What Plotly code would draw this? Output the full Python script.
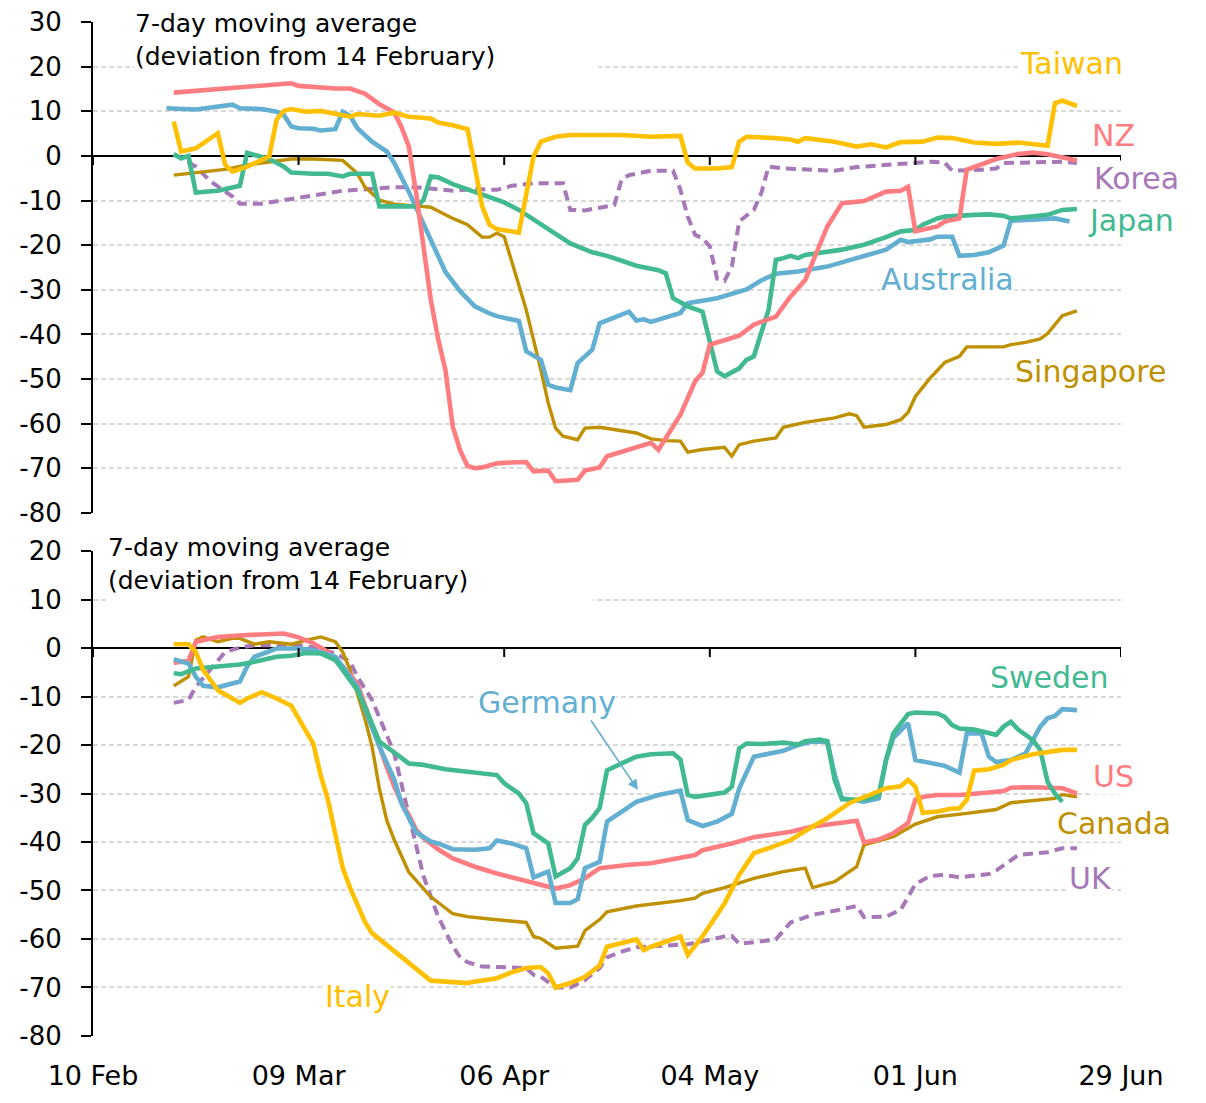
import plotly.graph_objects as go
import pandas as pd

START = pd.Timestamp("2020-02-10")
END = pd.Timestamp("2020-06-29")

TICK_DATES = ["2020-02-10", "2020-03-09", "2020-04-06", "2020-05-04", "2020-06-01", "2020-06-29"]
Y_TOP_TICKS = [30, 20, 10, 0, -10, -20, -30, -40, -50, -60, -70, -80]
Y_TOP_LABELS = ["30", "20", "10", "0", "-10", "-20", "-30", "-40", "-50", "-60", "-70", "-80"]
Y_BOT_TICKS = [20, 10, 0, -10, -20, -30, -40, -50, -60, -70, -80]
Y_BOT_LABELS = ["20", "10", "0", "-10", "-20", "-30", "-40", "-50", "-60", "-70", "-80"]

# ---- top panel (days since 10 Feb 2020, deviation %) ----
nz_days = [11,20,27,28,30,33,35,37,39,40,41,42,43,44,45,46,47,48,49,50,51,52,53,55,57,59,60,62,63,66,67,69,70,72,74,76,77,80,82,83,84,86,88,90,93,95,97,100,102,105,108,110,111,112,115,116,118,119,121,123,126,128,130,132,134]
nz_vals = [14.2,15.4,16.3,15.7,15.4,15.1,15.1,14.0,11.6,10.8,9.8,6.5,2.2,-8.2,-20.8,-32.2,-41.0,-48.0,-60.7,-66.0,-69.5,-70.0,-69.8,-68.9,-68.7,-68.6,-70.7,-70.5,-72.9,-72.6,-70.5,-69.8,-67.3,-66.3,-65.1,-64.3,-65.9,-58.0,-50.5,-48.6,-42.3,-41.3,-40.3,-37.8,-36.0,-31.5,-27.8,-15.8,-10.6,-10.1,-8.0,-7.8,-6.9,-16.9,-15.8,-14.7,-14.0,-3.1,-1.9,-0.7,0.45,0.75,0.4,-0.3,-1.0]

aus_days = [10,14,19,20,23,25,26,27,28,30,31,33,34,35,36,38,40,41,43,45,47,48,50,52,54,55,58,59,61,62,63,65,66,68,69,73,74,75,76,80,81,83,85,89,91,93,96,100,103,105,108,110,111,114,115,117,118,120,122,124,125,128,131,133]
aus_vals = [10.7,10.4,11.5,10.7,10.5,9.9,9.2,6.6,6.2,6.1,5.7,6.0,9.9,9.0,6.2,3.2,1.0,-1.5,-8.0,-15.1,-22.6,-26.0,-30.3,-33.7,-35.3,-35.9,-37.0,-43.8,-45.7,-51.3,-51.9,-52.5,-46.4,-43.4,-37.5,-34.9,-36.9,-36.6,-37.2,-35.2,-33.0,-32.4,-31.9,-29.9,-27.9,-26.4,-25.9,-24.8,-23.3,-22.5,-21.0,-18.8,-19.3,-18.7,-18.1,-18.1,-22.4,-22.2,-21.6,-20.1,-14.5,-14.3,-14.0,-14.7]

twn_days = [11,12,14,17,18,19,21,23,24,25,26,27,29,31,34,35,36,39,41,43,46,47,49,51,52,53,54,55,58,59,60,61,63,65,68,72,76,80,81,82,85,87,88,89,93,95,96,97,101,104,106,108,110,113,115,117,120,123,126,129,130,131,132,134]
twn_vals = [7.7,1.0,1.7,5.1,-2.0,-3.5,-2.4,-1.0,-0.1,8.1,10.1,10.5,9.9,10.1,9.0,8.8,9.4,9.0,9.7,8.8,8.4,7.5,6.9,6.0,-2.4,-11.3,-15.4,-16.4,-17.2,-9.1,-0.1,3.2,4.3,4.7,4.6,4.7,4.3,4.5,-1.5,-2.8,-2.8,-2.5,3.2,4.3,4.0,3.7,3.2,4.0,3.2,2.1,2.6,1.9,3.1,3.2,4.1,4.0,3.0,2.7,3.0,2.3,2.3,11.8,12.4,11.2]

jpn_days = [11,12,13,14,17,19,20,21,24,26,27,30,32,34,35,38,39,44,45,46,47,49,52,56,58,60,63,65,68,70,72,74,77,78,79,81,83,84,85,86,88,89,90,92,93,94,95,96,97,102,105,108,110,112,113,115,116,120,122,124,125,127,130,132,134]
jpn_vals = [0.4,-0.5,0.0,-8.2,-7.8,-7.2,-6.7,0.7,-0.7,-2.4,-3.7,-4.0,-4.0,-4.6,-4.0,-4.0,-11.3,-11.3,-9.9,-4.6,-4.8,-6.3,-8.0,-10.4,-12.1,-14.3,-17.7,-19.6,-21.6,-22.4,-23.5,-24.6,-25.6,-26.3,-31.9,-33.7,-34.9,-41.2,-48.3,-49.4,-47.6,-45.7,-44.9,-34.5,-23.3,-22.9,-22.4,-22.9,-22.2,-21.0,-19.9,-18.2,-16.9,-16.6,-15.4,-14.0,-13.6,-13.2,-13.1,-13.4,-14.0,-13.7,-13.2,-12.1,-11.9]

sgp_days = [11,14,18,21,24,27,30,33,34,36,37,39,41,44,46,49,51,53,54,55,56,57,59,61,62,63,64,66,67,69,74,76,78,80,81,83,86,87,88,90,93,94,97,101,103,104,105,108,110,111,112,114,116,118,119,124,125,127,129,130,132,134]
sgp_vals = [-4.3,-3.7,-3.0,-2.0,-1.3,-0.7,-0.7,-0.9,-1.0,-3.9,-6.9,-9.9,-10.8,-11.2,-11.5,-14.0,-15.4,-18.2,-18.2,-17.3,-18.1,-23.5,-34.5,-48.0,-55.4,-61.0,-62.8,-63.6,-61.0,-60.8,-62.1,-63.4,-63.8,-63.9,-66.4,-65.8,-65.3,-67.3,-64.7,-63.9,-63.2,-60.8,-59.7,-58.7,-57.8,-58.2,-60.8,-60.2,-59.1,-57.5,-53.9,-49.8,-46.3,-44.9,-42.8,-42.8,-42.3,-41.8,-41.0,-39.8,-35.8,-34.7]

kor_days = [11,14,16,19,20,23,26,29,32,34,36,39,41,44,47,49,52,55,57,60,64,65,67,70,71,72,73,76,79,80,81,82,83,84,85,86,87,88,90,91,92,94,97,101,104,108,111,114,116,117,121,123,124,127,130,132,134]
kor_vals = [0.4,-2.4,-5.7,-9.1,-10.7,-10.7,-9.9,-9.1,-8.4,-7.8,-7.6,-7.2,-7.0,-7.0,-7.6,-7.8,-7.4,-7.6,-6.7,-6.1,-6.1,-12.1,-12.2,-11.3,-11.0,-5.2,-4.3,-3.3,-3.3,-7.6,-13.6,-17.7,-18.4,-20.3,-27.5,-28.0,-24.8,-14.7,-12.1,-8.4,-2.4,-2.8,-3.1,-3.3,-2.5,-2.0,-1.6,-1.3,-1.5,-3.3,-3.1,-2.8,-1.6,-1.5,-1.3,-1.3,-1.6]

# ---- bottom panel ----
ita_days = [11,13,14,15,17,20,21,23,25,27,28,30,31,32,33,34,35,36,37,38,40,42,44,46,48,51,52,55,57,59,61,62,63,65,67,69,70,72,74,75,76,80,81,83,86,88,90,92,95,98,100,103,105,108,110,111,112,113,115,117,118,119,120,122,124,125,128,132,134]
ita_vals = [0.8,0.8,-0.8,-4.5,-8.7,-11.3,-10.4,-9.1,-10.4,-11.9,-14.5,-19.7,-26.2,-31.3,-38.4,-45.3,-49.4,-53.2,-56.4,-58.8,-61.2,-63.6,-66.3,-68.6,-68.8,-69.1,-68.8,-68.1,-66.9,-66.0,-65.8,-67.1,-70.0,-69.1,-67.8,-65.5,-61.6,-60.9,-60.1,-62.3,-61.6,-59.5,-63.3,-59.5,-52.7,-46.8,-42.3,-41.3,-39.6,-36.8,-35.1,-32.0,-30.7,-28.9,-28.5,-27.2,-28.6,-34.0,-33.7,-33.1,-33.1,-31.3,-25.3,-25.0,-24.1,-23.1,-21.9,-21.0,-21.0]

us_days = [11,13,14,15,17,21,24,26,28,30,32,34,36,37,38,39,40,41,42,43,44,45,47,49,52,55,57,60,62,63,65,67,69,71,73,76,80,82,83,87,90,93,95,98,102,104,105,107,109,111,112,113,115,118,122,124,125,128,132,134]
us_vals = [-3.0,-2.7,1.3,1.6,2.3,2.7,2.8,3.0,2.2,1.0,-0.8,-3.8,-7.3,-11.7,-16.0,-20.4,-24.5,-28.5,-31.8,-34.4,-37.5,-39.2,-41.5,-43.4,-45.1,-46.5,-47.3,-48.4,-49.2,-49.6,-48.9,-47.5,-45.4,-45.0,-44.7,-44.4,-43.4,-42.7,-41.7,-40.3,-39.0,-38.2,-37.9,-36.8,-36.1,-35.6,-40.1,-39.5,-38.2,-36.1,-31.3,-30.7,-30.3,-30.3,-29.8,-29.5,-28.8,-28.7,-28.9,-30.0]

deu_days = [11,13,14,15,17,20,21,22,25,28,30,33,34,36,37,38,39,41,42,43,44,46,47,49,52,54,55,57,59,60,62,63,65,66,67,69,70,74,77,80,81,83,85,87,88,90,94,96,98,100,101,102,105,107,108,109,111,112,114,116,118,119,121,122,123,125,127,129,130,131,132,134]
deu_vals = [-2.3,-3.2,-5.9,-7.8,-8.1,-6.9,-3.8,-1.8,-0.1,-0.1,-0.4,-1.8,-3.8,-8.0,-12.5,-16.5,-20.3,-27.0,-32.0,-35.0,-38.0,-39.9,-40.3,-41.5,-41.6,-41.3,-39.7,-40.3,-41.3,-47.3,-46.1,-52.6,-52.6,-51.8,-45.4,-44.1,-35.8,-31.7,-30.3,-29.4,-35.5,-36.7,-35.8,-34.2,-29.0,-22.4,-21.2,-20.0,-19.3,-19.3,-26.0,-31.0,-31.7,-31.0,-23.1,-18.5,-15.5,-23.1,-23.6,-24.3,-25.7,-17.6,-17.6,-22.4,-23.5,-23.1,-21.7,-16.2,-14.5,-14.0,-12.6,-12.8]

swe_days = [11,12,14,18,20,22,25,27,29,31,33,34,36,37,39,41,43,45,48,51,55,56,58,59,60,62,63,65,66,67,68,69,70,72,74,76,79,80,81,82,86,87,88,89,91,94,96,97,99,100,101,102,104,106,107,108,109,111,112,115,116,117,118,120,123,124,125,126,128,129,130,131,132]
swe_vals = [-5.2,-5.4,-4.2,-3.8,-3.4,-2.8,-1.8,-1.6,-1.0,-1.1,-2.5,-4.5,-8.7,-12.0,-19.3,-21.5,-23.8,-24.1,-25.0,-25.5,-26.2,-27.9,-30.0,-32.0,-38.2,-40.3,-47.1,-45.4,-43.4,-36.5,-35.0,-33.0,-25.2,-23.8,-22.4,-21.9,-21.7,-23.0,-30.3,-30.7,-29.8,-28.6,-20.7,-19.7,-19.8,-19.5,-19.9,-19.2,-18.9,-19.2,-27.2,-31.2,-31.3,-31.0,-30.3,-23.1,-17.6,-13.6,-13.3,-13.5,-14.2,-15.9,-16.6,-16.8,-17.9,-16.2,-15.2,-16.8,-19.0,-21.0,-27.6,-30.0,-31.7]

can_days = [11,13,14,15,17,19,20,22,24,27,29,31,33,34,35,36,37,38,39,40,41,43,46,49,51,54,56,59,60,61,63,66,67,69,70,74,80,82,83,86,90,94,97,98,101,104,105,109,112,115,119,123,125,129,131,132,134]
can_vals = [-7.8,-5.9,1.6,2.3,1.3,2.0,2.0,0.8,1.3,0.8,1.6,2.3,1.3,-0.8,-4.5,-9.5,-14.4,-20.3,-29.0,-35.5,-39.5,-46.2,-51.3,-54.8,-55.4,-55.9,-56.2,-56.6,-59.5,-59.9,-61.9,-61.5,-58.3,-56.0,-54.4,-53.2,-52.1,-51.6,-50.6,-49.4,-47.5,-46.1,-45.4,-49.4,-48.2,-45.1,-40.6,-38.9,-36.3,-34.8,-34.1,-33.3,-31.9,-31.2,-31.0,-30.2,-30.7]

uk_days = [11,13,14,16,18,20,22,25,28,30,33,35,36,38,40,41,42,43,44,45,47,49,50,51,53,56,59,60,61,63,65,67,69,70,72,74,78,81,83,86,87,88,91,93,95,98,101,104,105,108,110,111,112,114,116,118,122,123,125,126,130,132,134]
uk_vals = [-11.3,-10.7,-8.0,-4.5,-0.8,0.1,0.6,0.6,0.6,0.1,-1.1,-2.8,-5.9,-10.7,-17.7,-21.6,-28.0,-34.5,-41.0,-47.0,-55.4,-61.5,-63.8,-64.8,-65.7,-65.8,-66.0,-67.4,-67.8,-70.0,-70.0,-68.5,-66.0,-63.8,-62.6,-61.7,-61.4,-61.1,-60.5,-59.5,-59.4,-61.0,-60.5,-60.1,-56.6,-55.0,-54.2,-53.2,-55.5,-55.4,-54.0,-51.3,-48.7,-47.0,-46.8,-47.3,-46.6,-45.9,-43.7,-42.7,-42.1,-41.3,-41.3]

PINK = "#FF7C80"
BLUE = "#62AFD1"
GOLD = "#FFC000"
GREEN = "#41B991"
DGOLD = "#BF9000"
PURPLE = "#A678B8"

def to_dates(days):
    return [START + pd.Timedelta(days=int(d)) for d in days]

fig = go.Figure()

def add(days, vals, color, width, xa, ya, dash=None, name=""):
    assert len(days) == len(vals), name
    fig.add_trace(go.Scatter(
        x=to_dates(days), y=vals, mode="lines", name=name,
        line=dict(color=color, width=width, dash=dash),
        xaxis=xa, yaxis=ya, hoverinfo="skip"))

# top panel
add(kor_days, kor_vals, PURPLE, 4, "x", "y", dash="10px,6px", name="Korea")
add(sgp_days, sgp_vals, DGOLD, 3.4, "x", "y", name="Singapore")
add(aus_days, aus_vals, BLUE, 4.6, "x", "y", name="Australia")
add(jpn_days, jpn_vals, GREEN, 4.6, "x", "y", name="Japan")
add(nz_days, nz_vals, PINK, 4.6, "x", "y", name="NZ")
add(twn_days, twn_vals, GOLD, 4.6, "x", "y", name="Taiwan")
# bottom panel
add(uk_days, uk_vals, PURPLE, 4, "x2", "y2", dash="10px,6px", name="UK")
add(can_days, can_vals, DGOLD, 3.4, "x2", "y2", name="Canada")
add(us_days, us_vals, PINK, 4.6, "x2", "y2", name="US")
add(deu_days, deu_vals, BLUE, 4.6, "x2", "y2", name="Germany")
add(swe_days, swe_vals, GREEN, 4.6, "x2", "y2", name="Sweden")
add(ita_days, ita_vals, GOLD, 4.6, "x2", "y2", name="Italy")

FONT = "DejaVu Sans"
grid = dict(showgrid=True, gridcolor="#D9D9D9", gridwidth=2, griddash="5px,3px",
            zeroline=True, zerolinecolor="black", zerolinewidth=1.6,
            showline=True, linecolor="black", linewidth=2,
            ticks="outside", ticklen=10, tickwidth=2, tickcolor="black", automargin=False,
            ticklabeloverflow="allow",
            tickfont=dict(size=26, color="black", family=FONT), ticklabelstandoff=14)

# the page body adds an 8px offset, so the figure is 8px smaller and shifted
fig.update_layout(
    width=1198, height=1095,
    margin=dict(l=85, r=85, t=14, b=67, autoexpand=False),
    plot_bgcolor="white", paper_bgcolor="white",
    showlegend=False,
    font=dict(family=FONT, color="black"),
    xaxis=dict(domain=[0, 1], anchor="y", range=[START, END], showgrid=False, showline=False,
               zeroline=False, ticks="", showticklabels=False, automargin=False),
    xaxis2=dict(domain=[0, 1], anchor="y2", range=[START, END], showgrid=False, showline=False,
                zeroline=False, ticks="", tickvals=TICK_DATES, tickformat="%d %b", automargin=False,
                ticklabeloverflow="allow",
                tickfont=dict(size=27, color="black", family=FONT), ticklabelstandoff=21),
    yaxis=dict(domain=[0.5158, 1], anchor="x", range=[-80.02, 30.02], tickvals=Y_TOP_TICKS,
               ticktext=Y_TOP_LABELS, **grid),
    yaxis2=dict(domain=[0, 0.4783], anchor="x2", range=[-80.02, 20.02], tickvals=Y_BOT_TICKS,
                ticktext=Y_BOT_LABELS, **grid),
)

# tick marks on the zero line
for xr, yr in (("x", "y"), ("x2", "y2")):
    for t in TICK_DATES:
        fig.add_shape(type="line", xref=xr, yref=yr, x0=t, x1=t, ysizemode="pixel",
                      yanchor=0, y0=0, y1=-9, line=dict(color="black", width=2))

def px_x(px):
    return (px - 93) / 1028.0

def px_y(py):
    return (1036 - py) / 1014.0

# panel notes
for left, top, w, h in ((134, 8, 463, 66), (107, 532, 484, 72)):
    fig.add_annotation(xref="paper", yref="paper", x=px_x(left), y=px_y(top),
                       xanchor="left", yanchor="top", width=w, height=h,
                       align="left", valign="top", bgcolor="white", borderpad=0,
                       showarrow=False,
                       text="7-day moving average<br>(deviation from 14 February)",
                       font=dict(size=25, color="black", family=FONT))

LABELS = [
    ("Taiwan", GOLD, 1071, 64), ("NZ", PINK, 1113, 135), ("Korea", PURPLE, 1136, 178),
    ("Japan", GREEN, 1131, 220), ("Australia", BLUE, 947, 280), ("Singapore", DGOLD, 1090, 371),
    ("Germany", BLUE, 547, 702), ("Sweden", GREEN, 1049, 677), ("US", PINK, 1113, 777),
    ("Canada", DGOLD, 1114, 823), ("UK", PURPLE, 1090, 878), ("Italy", GOLD, 357, 996),
]
for txt, col, cx, cy in LABELS:
    fig.add_annotation(xref="paper", yref="paper", x=px_x(cx), y=px_y(cy),
                       xanchor="center", yanchor="middle", showarrow=False,
                       text=txt, bgcolor="white", borderpad=0,
                       font=dict(size=30, color=col, family=FONT))

# Germany arrow
fig.add_annotation(xref="paper", yref="paper", x=px_x(638), y=px_y(790),
                   ax=590 - 638, ay=719 - 790, axref="pixel", ayref="pixel",
                   text="", showarrow=True, arrowhead=2, arrowsize=1.3,
                   arrowwidth=1.6, arrowcolor=BLUE, standoff=0, startstandoff=0)

fig.write_html("out.html")
